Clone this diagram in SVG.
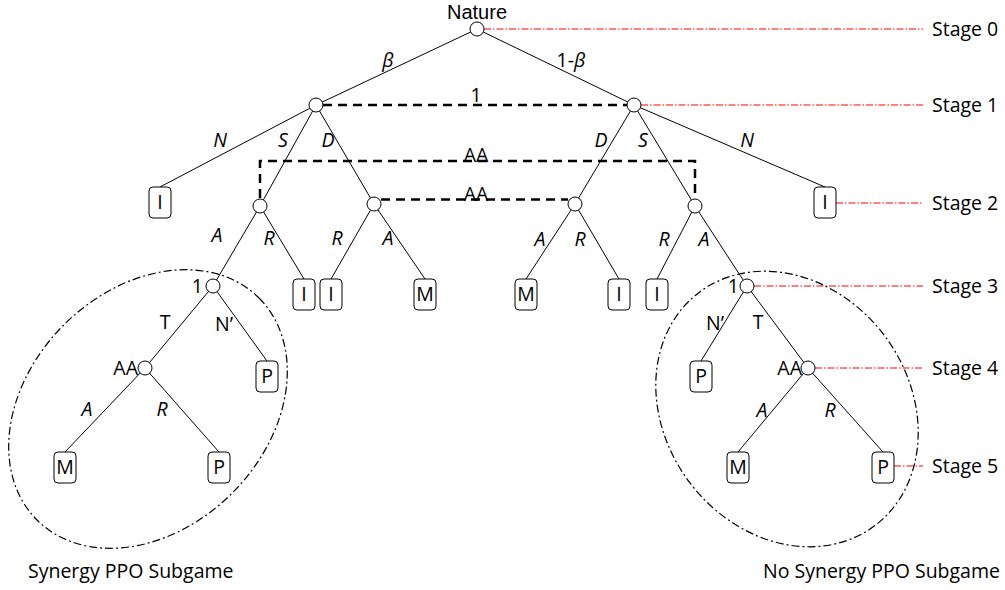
<svg xmlns="http://www.w3.org/2000/svg" width="1005" height="590" viewBox="0 0 1005 590">
<style>
text{font-family:"Open Sans","Liberation Sans",sans-serif;font-size:19.5px;fill:#000}
.c{text-anchor:middle}
.i{font-style:italic}
.top{font-family:"Liberation Sans",Arial,sans-serif;font-size:20px}
.e{stroke:#000;stroke-width:1;fill:none}
.d{stroke:#000;stroke-width:2.5;fill:none;stroke-dasharray:9 6}
.s{stroke:#f00;stroke-width:1;fill:none;stroke-dasharray:7 2 1.5 2}
.el{stroke:#000;stroke-width:1.2;fill:none;stroke-dasharray:8 3 2 3}
.n{fill:#fff;stroke:#000;stroke-width:1}
.b{fill:#fff;stroke:#000;stroke-width:1}
</style>
<rect width="1005" height="590" fill="#fff"/>
<g id="connectors">
<path class="e" d="M477,29 L316,105 M477,29 L634,105"/>
<path class="e" d="M316,105 L160,187 M316,105 L260,206 M316,105 L374,204"/>
<path class="e" d="M634,105 L825,187 M634,105 L695,206 M634,105 L575,204"/>
<path class="e" d="M260,206 L213,286 M260,206 L304,279 M374,204 L331,279 M374,204 L425,279"/>
<path class="e" d="M575,204 L526,279 M575,204 L619,279 M695,206 L657,279 M695,206 L747,286"/>
<path class="e" d="M213,286 L145,368 M213,286 L267,361 M145,368 L65,452 M145,368 L219,452"/>
<path class="e" d="M747,286 L701,361 M747,286 L808,368 M808,368 L738,452 M808,368 L883,452"/>
<path class="d" d="M323,105 H627"/>
<path class="d" d="M260,198 V161 H695 V198"/>
<path class="d" d="M381,199.5 H568"/>
<path class="s" d="M484,29 H923 M641,105 H923 M836,203 H923 M754,286 H923 M815,368 H923 M894,466 H923"/>
<ellipse class="el" cx="148" cy="409" rx="157" ry="119" transform="rotate(-45 148 409)"/>
<ellipse class="el" cx="787" cy="409" rx="146" ry="122" transform="rotate(53 787 409)"/>
</g>
<g id="edge-labels">
<text class="c i" x="388" y="67">β</text>
<text class="c" x="571" y="67">1-<tspan class="i">β</tspan></text>
<text class="c" x="476" y="102">1</text>
<text class="c i" x="220" y="147">N</text>
<text class="c i" x="283" y="147">S</text>
<text class="c i" x="328" y="147">D</text>
<text class="c i" x="601" y="147">D</text>
<text class="c i" x="643" y="147">S</text>
<text class="c i" x="747" y="147">N</text>
<text class="c" x="476" y="162">AA</text>
<text class="c" x="476" y="201">AA</text>
<text class="c i" x="217" y="242">A</text>
<text class="c i" x="269" y="245">R</text>
<text class="c i" x="337" y="245">R</text>
<text class="c i" x="388" y="245">A</text>
<text class="c i" x="540" y="246">A</text>
<text class="c i" x="580" y="246">R</text>
<text class="c i" x="664" y="246">R</text>
<text class="c i" x="704" y="246">A</text>
<text class="c" x="165" y="329">T</text>
<text class="c" x="224" y="331">N’</text>
<text class="c" x="715" y="330">N’</text>
<text class="c" x="758" y="329">T</text>
<text class="c i" x="87" y="416">A</text>
<text class="c i" x="162" y="416">R</text>
<text class="c i" x="762" y="417">A</text>
<text class="c i" x="830" y="417">R</text>
</g>
<g id="n-nature"><circle class="n" cx="477" cy="29" r="7"/><text class="c top" x="477" y="19">Nature</text></g>
<g id="n-l1"><circle class="n" cx="316" cy="105" r="7"/></g>
<g id="n-r1"><circle class="n" cx="634" cy="105" r="7"/></g>
<g id="n-ls"><circle class="n" cx="260" cy="206" r="7"/></g>
<g id="n-ld"><circle class="n" cx="374" cy="204" r="7"/></g>
<g id="n-rd"><circle class="n" cx="575" cy="204" r="7"/></g>
<g id="n-rs"><circle class="n" cx="695" cy="206" r="7"/></g>
<g id="n-l3"><circle class="n" cx="213" cy="286" r="7"/><text x="203" y="293" text-anchor="end">1</text></g>
<g id="n-r3"><circle class="n" cx="747" cy="286" r="7"/><text x="739" y="293" text-anchor="end">1</text></g>
<g id="n-l4"><circle class="n" cx="145" cy="368" r="7"/><text x="138" y="375" text-anchor="end">AA</text></g>
<g id="n-r4"><circle class="n" cx="808" cy="368" r="7"/><text x="802" y="375" text-anchor="end">AA</text></g>
<g id="t-i1"><rect class="b" x="149" y="187" width="22" height="31" rx="4"/><text class="c" x="160" y="209">I</text></g>
<g id="t-i2"><rect class="b" x="814" y="187" width="22" height="31" rx="4"/><text class="c" x="825" y="209">I</text></g>
<g id="t-i3"><rect class="b" x="293" y="279" width="22" height="31" rx="4"/><text class="c" x="304" y="301">I</text></g>
<g id="t-i4"><rect class="b" x="320" y="279" width="22" height="31" rx="4"/><text class="c" x="331" y="301">I</text></g>
<g id="t-m1"><rect class="b" x="414" y="279" width="22" height="31" rx="4"/><text class="c" x="425" y="301">M</text></g>
<g id="t-m2"><rect class="b" x="515" y="279" width="22" height="31" rx="4"/><text class="c" x="526" y="301">M</text></g>
<g id="t-i5"><rect class="b" x="608" y="279" width="22" height="31" rx="4"/><text class="c" x="619" y="301">I</text></g>
<g id="t-i6"><rect class="b" x="646" y="279" width="22" height="31" rx="4"/><text class="c" x="657" y="301">I</text></g>
<g id="t-p1"><rect class="b" x="256" y="361" width="22" height="31" rx="4"/><text class="c" x="267" y="383">P</text></g>
<g id="t-p2"><rect class="b" x="690" y="361" width="22" height="31" rx="4"/><text class="c" x="701" y="383">P</text></g>
<g id="t-m3"><rect class="b" x="54" y="452" width="22" height="31" rx="4"/><text class="c" x="65" y="474">M</text></g>
<g id="t-p3"><rect class="b" x="208" y="452" width="22" height="31" rx="4"/><text class="c" x="219" y="474">P</text></g>
<g id="t-m4"><rect class="b" x="727" y="452" width="22" height="31" rx="4"/><text class="c" x="738" y="474">M</text></g>
<g id="t-p4"><rect class="b" x="872" y="452" width="22" height="31" rx="4"/><text class="c" x="883" y="474">P</text></g>
<g id="stages">
<text x="932" y="36">Stage 0</text>
<text x="932" y="112">Stage 1</text>
<text x="932" y="210">Stage 2</text>
<text x="932" y="293">Stage 3</text>
<text x="932" y="375">Stage 4</text>
<text x="932" y="473">Stage 5</text>
</g>
<g id="captions">
<text x="28" y="578">Synergy PPO Subgame</text>
<text x="763" y="578">No Synergy PPO Subgame</text>
</g>
</svg>
